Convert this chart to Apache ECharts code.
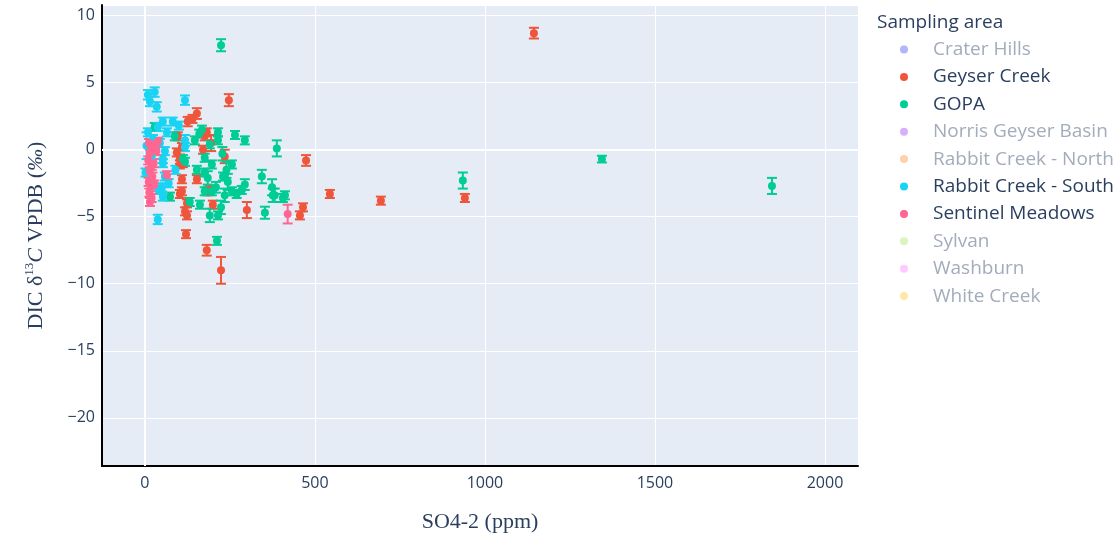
<!DOCTYPE html>
<html><head><meta charset="utf-8">
<script src="https://cdn.jsdelivr.net/npm/echarts@6/dist/echarts.min.js"></script>
<style>html,body{margin:0;padding:0;background:#fff}#c{width:1120px;height:544px}</style>
</head><body><div id="c"></div>
<script>
// Legend categories (sampling areas), Plotly default colours
const areas = ["Crater Hills","Geyser Creek","GOPA","Norris Geyser Basin","Rabbit Creek - North","Rabbit Creek - South","Sentinel Meadows","Sylvan","Washburn","White Creek"];
const areaColors = ["#636efa","#EF553B","#00cc96","#ab63fa","#FFA15A","#19d3f3","#FF6692","#B6E880","#FF97FF","#FECB52"];
const fadedColors = ["#b1b6fc","#f7aa9d","#80e5cb","#d5b1fc","#ffd0ac","#8ce9f9","#ffb2c8","#daf3bf","#ffcbff","#fee5a8"];
const areaVisible = [false,true,true,false,false,true,true,false,false,false];

// Geyser Creek
const geyserX   = [1144,247,153,126,140,97,109,176,171,103,195,103,153,103,109,124,118,124,121,182,224,185,200,300,474,465,456,544,694,941,94,235,182,112,109,191];
const geyserY   = [8.7,3.7,2.7,2.1,2.3,1.0,0.2,1.0,0.0,-0.7,0.5,-1.1,-2.2,-3.3,-3.1,-4.0,-4.6,-4.9,-6.3,-7.5,-9.0,-3.1,-4.1,-4.5,-0.8,-4.3,-4.9,-3.3,-3.8,-3.6,-0.2,-0.5,1.3,-1.0,-2.2,-3.0];
const geyserErr = [0.4,0.45,0.4,0.35,0.3,0.3,0.3,0.3,0.3,0.35,0.6,0.3,0.3,0.3,0.3,0.3,0.3,0.3,0.3,0.4,1.0,0.3,0.3,0.6,0.4,0.3,0.3,0.3,0.3,0.3,0.3,0.5,0.3,0.3,0.3,0.3];

// GOPA
const gopaX   = [224,1344,1844,935,388,353,344,215,215,265,294,256,197,244,294,374,382,412,185,235,132,162,191,212,256,285,376,406,215,176,118,153,176,197,74,168,147,191,88,112,176,29,228,240,224,209,160,270,230];
const gopaY   = [7.8,-0.7,-2.7,-2.3,0.1,-4.7,-2.0,1.3,0.7,1.1,0.7,-1.1,-1.1,-2.4,-2.6,-2.8,-3.4,-3.4,-2.1,-3.4,-3.9,-4.1,-4.9,-6.8,-3.1,-3.0,-3.4,-3.6,-4.9,-3.1,-0.9,-1.5,-1.7,-3.1,-3.5,1.5,0.7,0.4,1.0,-0.7,-0.6,1.7,-0.3,-1.5,-4.3,-2.8,1.2,-3.3,-2.0];
const gopaErr = [0.45,0.25,0.6,0.6,0.6,0.45,0.5,0.3,0.3,0.3,0.3,0.3,0.3,0.6,0.4,0.6,0.5,0.3,0.5,0.5,0.3,0.3,0.5,0.3,0.3,0.3,0.5,0.3,0.3,0.3,0.3,0.3,0.3,0.3,0.3,0.3,0.3,0.3,0.3,0.3,0.3,0.3,0.5,0.6,0.5,0.4,0.3,0.3,0.3];

// Rabbit Creek - South
const rcsX   = [9,29,15,35,118,82,53,38,9,65,118,44,59,118,53,53,59,50,53,38,2,5,24,70,100,90,41,20];
const rcsY   = [4.1,4.3,3.6,3.2,3.7,2.1,2.1,1.7,1.3,1.3,0.7,0.5,-0.1,0.2,-0.7,-1.0,-2.0,-2.8,-3.5,-5.2,-1.7,0.3,0.8,-2.5,1.8,-1.5,-3.0,-0.5];
const rcsErr = [0.35,0.35,0.35,0.35,0.35,0.3,0.3,0.3,0.3,0.3,0.4,0.3,0.3,0.3,0.3,0.3,0.3,0.3,0.3,0.35,0.3,1.0,0.3,0.3,0.3,0.3,0.3,0.3];

// Sentinel Meadows
const smX   = [12,18,30,15,10,20,14,22,11,18,13,20,15,34,65,420,38,26,28];
const smY   = [0.5,0.2,0.4,-0.3,-0.8,-1.2,-1.6,-2.0,-2.4,-2.8,-3.2,-3.6,-3.9,-0.1,-1.9,-4.8,0.6,-1.0,-2.6];
const smErr = [0.3,0.3,0.3,0.3,0.3,0.3,0.3,0.3,0.3,0.3,0.3,0.3,0.3,0.3,0.3,0.7,0.3,0.3,0.3];

const seriesData = {
  "Geyser Creek": [geyserX, geyserY, geyserErr],
  "GOPA": [gopaX, gopaY, gopaErr],
  "Rabbit Creek - South": [rcsX, rcsY, rcsErr],
  "Sentinel Meadows": [smX, smY, smErr]
};

const xName = "SO4-2 (ppm)";
const legendTitle = "Sampling area";
const textColor = "#2a3f5f";

function makeErr(color){
  return function(params, api){
    const x = api.value(0), y = api.value(1), e = api.value(2);
    const t = api.coord([x, y + e]), b = api.coord([x, y - e]);
    const hw = 5;
    const st = {stroke: color, lineWidth: 2};
    return {type:'group', children:[
      {type:'line', shape:{x1:t[0],y1:t[1],x2:b[0],y2:b[1]}, style:st},
      {type:'line', shape:{x1:t[0]-hw,y1:t[1],x2:t[0]+hw,y2:t[1]}, style:st},
      {type:'line', shape:{x1:b[0]-hw,y1:b[1],x2:b[0]+hw,y2:b[1]}, style:st}
    ]};
  };
}

const series = [];
areas.forEach((name, i) => {
  const d = seriesData[name];
  const rows = d ? d[0].map((x, k) => [x, d[1][k], d[2][k]]) : [];
  const col = areaVisible[i] ? areaColors[i] : fadedColors[i];
  const sc = {
    type:'scatter', name:name, data: rows.map(r => [r[0], r[1]]),
    symbolSize: 8, itemStyle:{color: col, opacity: 1}, z: 3
  };
  if (i === 0) {
    sc.markLine = {silent:true, symbol:'none', label:{show:false},
      lineStyle:{color:'#fff', width:2, type:'solid'},
      data:[{xAxis:0},{yAxis:0}], animation:false, z:1};
  }
  if (rows.length) {
    series.push({type:'custom', name: name + ' err', data: rows,
      renderItem: makeErr(col), encode:{x:0, y:1}, z: 3, silent:true});
  }
  series.push(sc);
});

const chart = echarts.init(document.getElementById('c'));
chart.setOption({
  animation:false,
  textStyle:{fontFamily:'Open Sans'},
  title:{text:legendTitle, left: 872, top: 8,
    textStyle:{fontSize:19, fontWeight:'normal', color:textColor, fontFamily:'Open Sans'}},
  legend:{
    orient:'vertical', left: 895, top: 35, icon:'circle',
    itemWidth: 48, itemHeight: 8, itemGap: 8.4, selectedMode:false,
    textStyle:{fontSize:19, color:textColor, fontFamily:'Open Sans'},
    data: areas.map((n, i) => ({name:n, textStyle: areaVisible[i] ? {color:textColor} : {color:'#a3acbb'}}))
  },
  grid:{left:102, right:262, top:5, bottom:78, show:true, backgroundColor:'#E5ECF6', borderWidth:0, containLabel:false},
  xAxis:{
    type:'value', min:-126, max:2097, splitNumber:5,
    axisLine:{show:true, onZero:false, lineStyle:{color:'#000', width:2}},
    axisTick:{show:false},
    splitLine:{show:true, lineStyle:{color:'#fff', width:1}},
    axisLabel:{color:textColor, fontSize:16, margin:9, showMinLabel:false, showMaxLabel:false,
      formatter: v => String(v).replace('-', '\u2212')},
    name: xName, nameLocation:'middle', nameGap:45,
    nameTextStyle:{fontFamily:'Liberation Serif', fontSize:22, color:textColor}
  },
  yAxis:{
    type:'value', min:-23.6, max:10.8, splitNumber:7,
    axisLine:{show:true, onZero:false, lineStyle:{color:'#000', width:2}},
    axisTick:{show:false},
    splitLine:{show:true, lineStyle:{color:'#fff', width:1}},
    axisLabel:{color:textColor, fontSize:16, margin:7, showMinLabel:false, showMaxLabel:false,
      formatter: v => String(v).replace('-', '\u2212')},
    name:'{a|DIC δ}{s|13}{i|C}{a| VPDB (}{i|‰}{a|)}',
    nameLocation:'middle', nameGap:53, nameRotate:90,
    nameTextStyle:{color:textColor, fontFamily:'Liberation Serif', fontSize:22,
      rich:{
        a:{fontFamily:'Liberation Serif', fontSize:22, color:textColor, lineHeight:26},
        s:{fontFamily:'Liberation Serif', fontSize:13, color:textColor, verticalAlign:'top', lineHeight:26},
        i:{fontFamily:'Liberation Serif', fontSize:22, fontStyle:'italic', color:textColor, lineHeight:26}
      }}
  },
  series: series
});
</script>
</body></html>
